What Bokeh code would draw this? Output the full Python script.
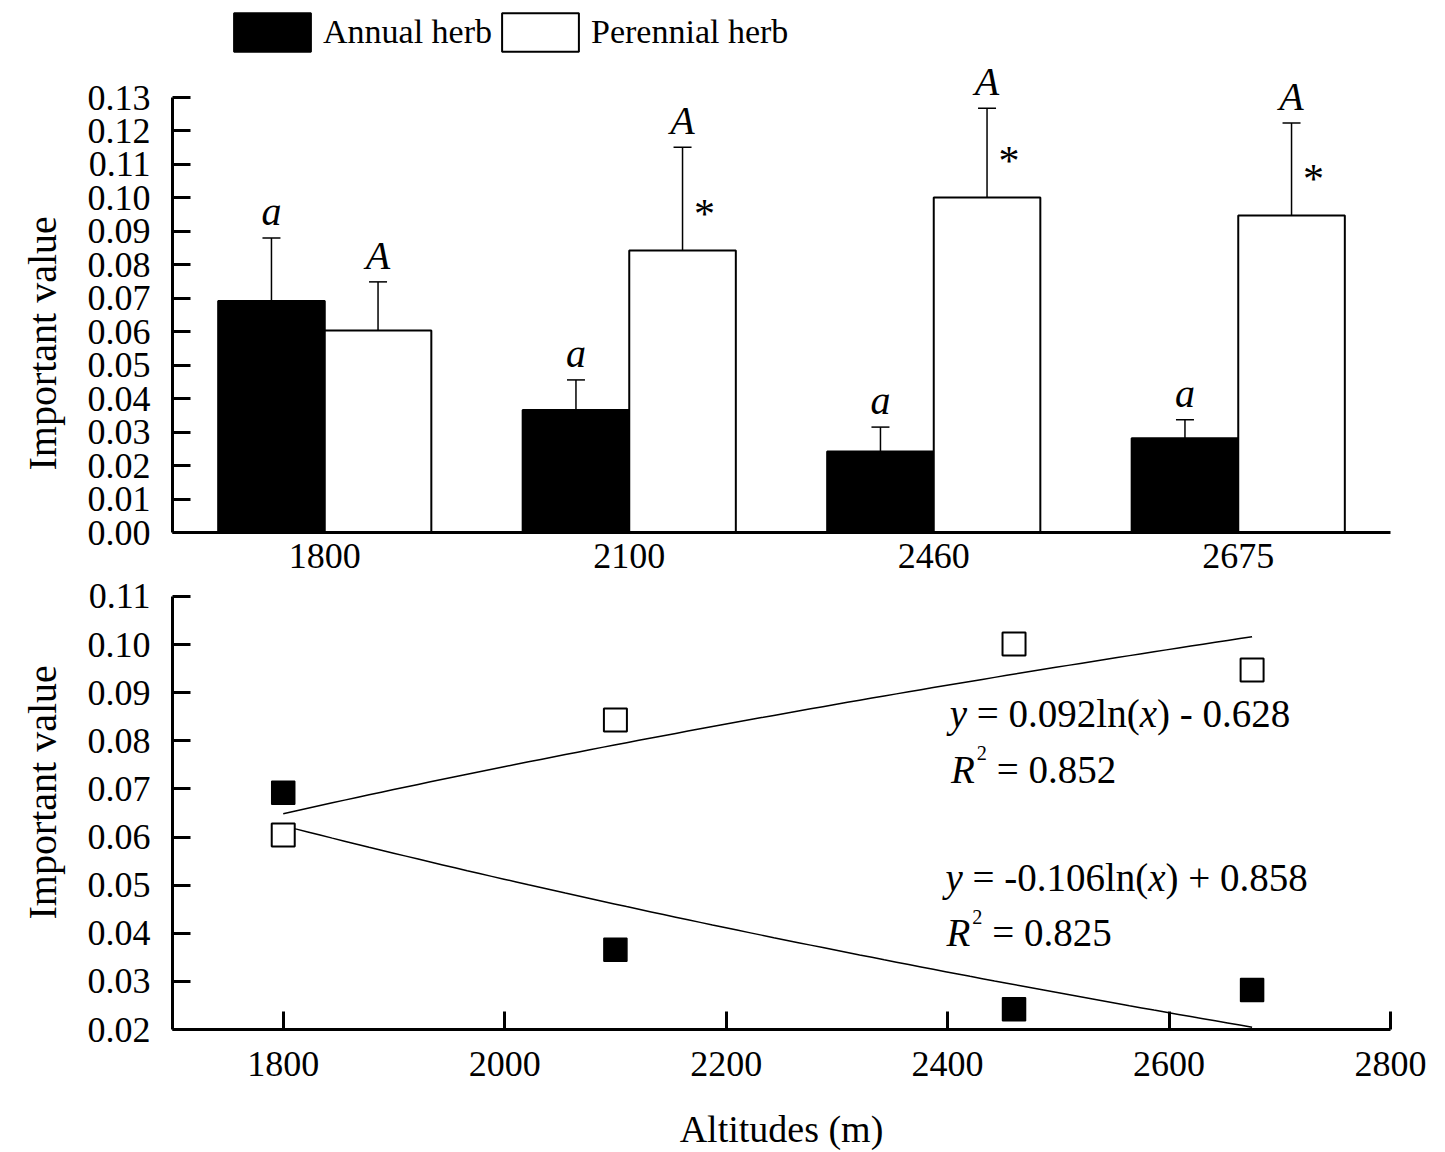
import numpy as np
from bokeh.plotting import figure
from bokeh.models import (ColumnDataSource, FactorRange, Range1d, FixedTicker, Title,
                          PrintfTickFormatter, Whisker, TeeHead, Legend, LegendItem, Label)
from bokeh.transform import dodge
from bokeh.layouts import column
from bokeh.core.properties import value
from bokeh.embed import file_html
from bokeh.resources import INLINE

# ---------------- data ----------------
altitudes = ["1800", "2100", "2460", "2675"]
altitude_m = [1800, 2100, 2460, 2675]
annual_mean = [0.0692, 0.0366, 0.0242, 0.0282]
annual_se = [0.0188, 0.0090, 0.0073, 0.0055]
perennial_mean = [0.0604, 0.0843, 0.1001, 0.0947]
perennial_se = [0.0145, 0.0308, 0.0267, 0.0277]
annual_letters = ["a", "a", "a", "a"]
perennial_letters = ["A", "A", "A", "A"]
perennial_marks = ["", "*", "*", "*"]
top_y_ticks = [0.00, 0.01, 0.02, 0.03, 0.04, 0.05, 0.06, 0.07, 0.08, 0.09, 0.10, 0.11, 0.12, 0.13]
bottom_y_ticks = [0.02, 0.03, 0.04, 0.05, 0.06, 0.07, 0.08, 0.09, 0.10, 0.11]
bottom_x_ticks = [1800, 2000, 2200, 2400, 2600, 2800]
legend_labels = ["Annual herb", "Perennial herb"]
y_title = "Important value"
x_title = "Altitudes (m)"
eq_perennial = "y = 0.092ln(x) - 0.628"
r2_perennial = "0.852"
eq_annual = "y = -0.106ln(x) + 0.858"
r2_annual = "0.825"

FONT = "Liberation Serif"
BASE_FIX = 13  # px upward correction for alphabetic-baseline texts

# ---------------- top: bar chart ----------------
annual_top = [m + s for m, s in zip(annual_mean, annual_se)]
perennial_top = [m + s for m, s in zip(perennial_mean, perennial_se)]
src = ColumnDataSource(dict(
    alt=altitudes,
    annual=annual_mean, annual_top=annual_top,
    perennial=perennial_mean, perennial_top=perennial_top,
    a_lbl=annual_letters, p_lbl=perennial_letters,
    a_lbl_y=[t + 0.0079 for t in annual_top],
    p_lbl_y=[t + 0.0079 for t in perennial_top],
    mark=perennial_marks,
    mark_y=[m + 0.011 for m in perennial_mean],
))

p1 = figure(x_range=FactorRange(factors=altitudes, range_padding=0),
            y_range=Range1d(0, 0.15899),
            width=1437, height=577,
            min_border_left=172, min_border_right=47,
            min_border_top=0, min_border_bottom=45,
            output_backend="svg", toolbar_location=None, tools="")
p1.outline_line_color = None
p1.xgrid.visible = False
p1.ygrid.visible = False
p1.background_fill_color = "white"
p1.border_fill_color = "white"

r_a = p1.vbar(x=dodge("alt", -0.175, range=p1.x_range), top="annual", width=0.35,
              source=src, fill_color="black", line_color="black", line_width=2)
r_p = p1.vbar(x=dodge("alt", 0.175, range=p1.x_range), top="perennial", width=0.35,
              source=src, fill_color="white", line_color="black", line_width=2)

for col, top, off in (("annual", "annual_top", -0.175), ("perennial", "perennial_top", 0.175)):
    p1.add_layout(Whisker(source=src, base=dodge("alt", off, range=p1.x_range),
                          lower=col, upper=top, dimension="height",
                          line_color="black", line_width=1.5,
                          upper_head=TeeHead(size=18, line_width=1.5, line_color="black"),
                          lower_head=None))

p1.text(x=dodge("alt", -0.175, range=p1.x_range), y="a_lbl_y", text="a_lbl", source=src,
        text_font=value(FONT), text_font_style="italic", text_font_size="40px",
        text_align="center", text_baseline="alphabetic", text_color="black")
p1.text(x=dodge("alt", 0.175, range=p1.x_range), y="p_lbl_y", text="p_lbl", source=src,
        text_font=value(FONT), text_font_style="italic", text_font_size="40px",
        text_align="center", text_baseline="alphabetic", text_color="black")
p1.text(x=dodge("alt", 0.247, range=p1.x_range), y="mark_y", text="mark", source=src,
        text_font=value(FONT), text_font_size="42px",
        text_align="center", text_baseline="alphabetic", text_color="black")

legend = Legend(items=[LegendItem(label=legend_labels[0], renderers=[r_a]),
                       LegendItem(label=legend_labels[1], renderers=[r_p])],
                orientation="horizontal", location=(52, 476),
                glyph_width=96, glyph_height=48, label_standoff=3, spacing=0,
                padding=0, margin=0, border_line_color=None,
                background_fill_alpha=0, label_text_color="black",
                label_text_font=FONT, label_text_font_size="34px")
p1.add_layout(legend)


def style_y(ax, ticks):
    ax.ticker = FixedTicker(ticks=ticks, minor_ticks=[])
    ax.formatter = PrintfTickFormatter(format="%.2f")
    ax.bounds = (ticks[0], ticks[-1])
    ax.major_tick_in = 18
    ax.major_tick_out = 0
    ax.major_tick_line_width = 3
    ax.major_tick_line_color = "black"
    ax.axis_line_width = 3
    ax.axis_line_color = "black"
    ax.minor_tick_line_color = None
    ax.major_label_text_font = FONT
    ax.major_label_text_font_size = "36px"
    ax.major_label_text_color = "black"
    ax.major_label_standoff = 22


style_y(p1.yaxis[0], top_y_ticks)

xa = p1.xaxis[0]
xa.major_tick_line_color = None
xa.minor_tick_line_color = None
xa.axis_line_width = 3
xa.axis_line_color = "black"
xa.major_label_text_font = FONT
xa.major_label_text_font_size = "36px"
xa.major_label_text_color = "black"
xa.major_label_standoff = 5

p1.add_layout(Title(text=y_title, align="left", offset=62, standoff=36,
                    vertical_align="top",
                    text_font=FONT, text_font_size="40px", text_font_style="normal",
                    text_color="black"), "left")

# ---------------- bottom: scatter + log trend ----------------
p2 = figure(x_range=Range1d(1700, 2800), y_range=Range1d(0.02, 0.11394),
            width=1437, height=575,
            min_border_left=172, min_border_right=47,
            min_border_top=0, min_border_bottom=122,
            output_backend="svg", toolbar_location=None, tools="")
p2.outline_line_color = None
p2.xgrid.visible = False
p2.ygrid.visible = False
p2.background_fill_color = "white"
p2.border_fill_color = "white"

lx = np.log(np.array(altitude_m, dtype=float))
xs = np.linspace(min(altitude_m), max(altitude_m), 80)
for vals in (perennial_mean, annual_mean):
    k, b = np.polyfit(lx, np.array(vals), 1)
    p2.line(xs, k * np.log(xs) + b, line_color="black", line_width=1.5)

p2.scatter(altitude_m, annual_mean, marker="square", size=23,
           fill_color="black", line_color="black", line_width=1.5)
p2.scatter(altitude_m, perennial_mean, marker="square", size=23,
           fill_color="white", line_color="black", line_width=2)

ROMAN_W = {' ': 250, '(': 333, ')': 333, '+': 564, '-': 333, '.': 250, '=': 564,
           'l': 278, 'n': 500, 'R': 667}
ITALIC_W = {'y': 444, 'x': 444, 'R': 611}


def text_w(s, italic, size):
    tot = 0
    for ch in s:
        if ch.isdigit():
            tot += 500
        elif italic:
            tot += ITALIC_W.get(ch, 500)
        else:
            tot += ROMAN_W.get(ch, 500)
    return tot * size / 1000.0


def add_rich(p, x, y, pieces, size):
    off = 0.0
    for txt, italic, scale, rise, extra in pieces:
        fs = size * scale
        if txt.strip():
            p.add_layout(Label(x=x, y=y, x_offset=off, y_offset=rise + BASE_FIX + 1, text=txt,
                               text_font=FONT,
                               text_font_style="italic" if italic else "normal",
                               text_font_size=f"{fs:.1f}px", text_baseline="alphabetic",
                               text_align="left", text_color="black"))
        off += text_w(txt, italic, fs) + extra


def eq_pieces(eq):
    head, rest = eq.split("ln(x)")
    return [("y", True, 1, 0, 0), (" ", False, 1, 0, 0),
            (head[2:].strip() + "ln(", False, 1, 0, 0),
            ("x", True, 1, 0, 0), (")" + rest, False, 1, 0, 0)]


def r2_pieces(r2):
    return [("R", True, 1, 0, 2), ("2", False, 0.52, 16, 0), (" ", False, 1, 0, 0),
            ("= " + r2, False, 1, 0, 0)]


FS = 39
add_rich(p2, 2402, 0.0828, eq_pieces(eq_perennial), FS)
add_rich(p2, 2403, 0.0712, r2_pieces(r2_perennial), FS)
add_rich(p2, 2398, 0.0486, eq_pieces(eq_annual), FS)
add_rich(p2, 2399, 0.0372, r2_pieces(r2_annual), FS)

style_y(p2.yaxis[0], bottom_y_ticks)

xa2 = p2.xaxis[0]
xa2.ticker = FixedTicker(ticks=bottom_x_ticks, minor_ticks=[])
xa2.major_tick_in = 18
xa2.major_tick_out = 0
xa2.major_tick_line_width = 3
xa2.major_tick_line_color = "black"
xa2.axis_line_width = 3
xa2.axis_line_color = "black"
xa2.minor_tick_line_color = None
xa2.major_label_text_font = FONT
xa2.major_label_text_font_size = "36px"
xa2.major_label_text_color = "black"
xa2.major_label_standoff = 22
xa2.axis_label = x_title
xa2.axis_label_text_font = FONT
xa2.axis_label_text_font_style = "normal"
xa2.axis_label_text_font_size = "38px"
xa2.axis_label_text_color = "black"
xa2.axis_label_standoff = 29

p2.add_layout(Title(text=y_title, align="left", offset=110, standoff=36,
                    vertical_align="top",
                    text_font=FONT, text_font_size="40px", text_font_style="normal",
                    text_color="black"), "left")

layout = column(p1, p2)
open("out.html", "w").write(file_html(layout, INLINE))
